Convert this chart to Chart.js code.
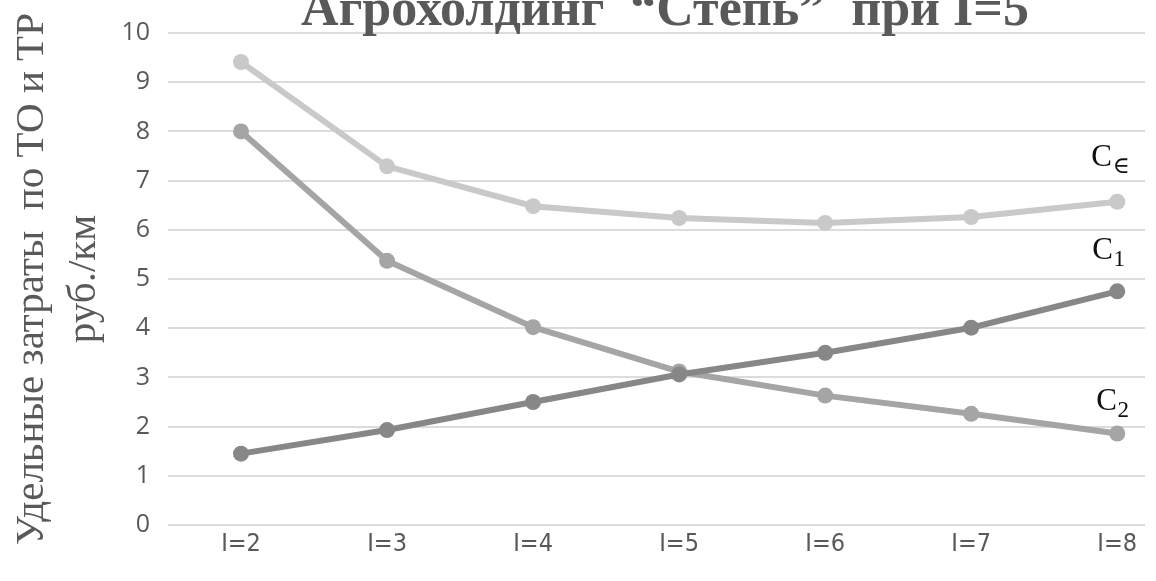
<!DOCTYPE html>
<html>
<head>
<meta charset="utf-8">
<script src="https://cdn.jsdelivr.net/npm/chart.js@4.4.1/dist/chart.umd.min.js"></script>
<style>
  html, body { margin: 0; padding: 0; background: #ffffff; overflow: hidden; }
  #wrap { width: 1156px; height: 581px; position: relative; }
</style>
</head>
<body>
<div id="wrap"><canvas id="c" width="1156" height="581"></canvas></div>
<script>
const titleText = 'Агрохолдинг  “Степь”  при I=5';
const yAxisTitle = ['Удельные затраты  по ТО и ТР', 'руб./км'];
const categories = ['I=2', 'I=3', 'I=4', 'I=5', 'I=6', 'I=7', 'I=8'];
const iValues = [2, 3, 4, 5, 6, 7, 8];
const cEps = [9.41, 7.29, 6.48, 6.24, 6.14, 6.26, 6.57];
const c1 = [1.45, 1.93, 2.50, 3.06, 3.50, 4.01, 4.75];
const c2 = [8.00, 5.37, 4.02, 3.12, 2.63, 2.26, 1.86];
const seriesNames = ['C1', 'C2', 'C∈'];
const seriesSubs = ['1', '2', '∈'];
const yTicks = [0, 1, 2, 3, 4, 5, 6, 7, 8, 9, 10];

function pts(vals) {
  return vals.map((v, i) => ({ x: iValues[i], y: v }));
}

const endLabels = {
  id: 'endLabels',
  afterDatasetsDraw(chart, args, opts) {
    const ctx = chart.ctx;
    ctx.save();
    ctx.fillStyle = '#111111';
    ctx.textBaseline = 'alphabetic';
    ctx.textAlign = 'left';
    chart.data.datasets.forEach((ds, di) => {
      const meta = chart.getDatasetMeta(di);
      const last = meta.data[meta.data.length - 1];
      const off = opts.offsets[di];
      const x = last.x + off[0];
      const y = last.y + off[1];
      ctx.font = '31px "Liberation Serif", "DejaVu Serif", serif';
      ctx.fillText('C', x, y);
      const w = ctx.measureText('C').width;
      ctx.font = '23px "Liberation Serif", "DejaVu Serif", serif';
      ctx.fillText(seriesSubs[di], x + w + 0.5, y + 7);
    });
    ctx.restore();
  }
};

const topTitle = {
  id: 'topTitle',
  afterDraw(chart, args, opts) {
    const ctx = chart.ctx;
    ctx.save();
    ctx.font = 'bold 52px "Liberation Serif", "DejaVu Serif", serif';
    ctx.fillStyle = '#595959';
    ctx.textAlign = 'center';
    ctx.textBaseline = 'alphabetic';
    ctx.fillText(titleText, opts.x, opts.y);
    ctx.restore();
  }
};

new Chart(document.getElementById('c'), {
  type: 'line',
  data: {
    datasets: [
      { label: seriesNames[0], data: pts(c1), borderColor: '#878787', backgroundColor: '#878787' },
      { label: seriesNames[1], data: pts(c2), borderColor: '#a5a5a5', backgroundColor: '#a5a5a5' },
      { label: seriesNames[2], data: pts(cEps), borderColor: '#c9c9c9', backgroundColor: '#c9c9c9' }
    ]
  },
  options: {
    responsive: false,
    animation: false,
    layout: { padding: { left: 0, right: 11, top: 31, bottom: 0 } },
    elements: {
      line: { borderWidth: 6, tension: 0 },
      point: { radius: 8, borderWidth: 0, hoverRadius: 8 }
    },
    plugins: {
      legend: { display: false },
      tooltip: { enabled: false },
      title: { display: false },
      endLabels: { offsets: [[-25, -32], [-21, -23], [-26, -36]] },
      topTitle: { x: 665, y: 25 }
    },
    scales: {
      x: {
        type: 'linear',
        min: 1.5,
        max: 8.19,
        grid: { display: false },
        border: { display: false },
        afterFit(s) { s.height = 56; },
        afterBuildTicks(s) { s.ticks = iValues.map(v => ({ value: v })); },
        ticks: {
          includeBounds: false,
          padding: -4,
          color: '#595959',
          font: { family: '"Liberation Sans Narrow", "DejaVu Sans Condensed", sans-serif', size: 25 },
          callback: (v) => categories[iValues.indexOf(v)] ?? ''
        }
      },
      y: {
        min: 0,
        max: 10,
        afterFit(s) { s.width = 168; },
        afterBuildTicks(s) { s.ticks = yTicks.map(v => ({ value: v })); },
        grid: { color: '#dcdcdc', lineWidth: 2, drawTicks: false },
        border: { display: false },
        ticks: {
          padding: 18,
          color: '#595959',
          font: { family: '"Open Sans", sans-serif', size: 25 }
        },
        title: {
          display: true,
          text: yAxisTitle,
          color: '#595959',
          padding: { top: 6, bottom: 0 },
          font: { family: '"Liberation Serif", "DejaVu Serif", serif', size: 41, lineHeight: 1.27 }
        }
      }
    }
  },
  plugins: [endLabels, topTitle]
});
</script>
</body>
</html>
